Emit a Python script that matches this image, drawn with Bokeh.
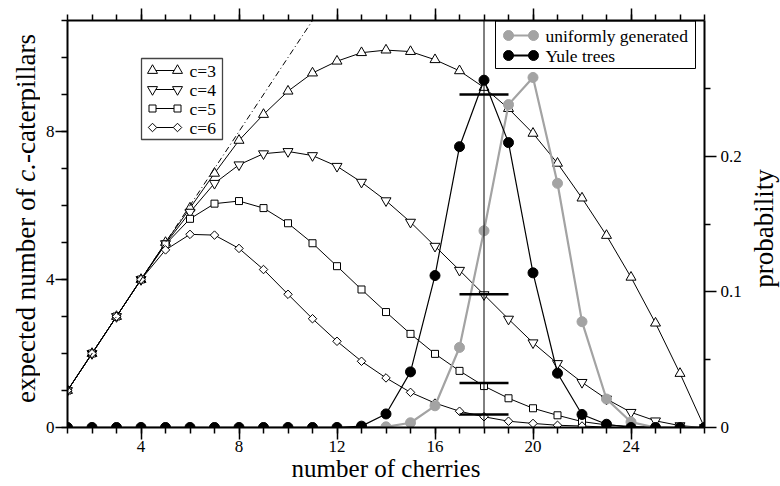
import numpy as np
from bokeh.plotting import figure
from bokeh.layouts import row
from bokeh.models import Range1d, LinearAxis, FixedTicker, Label, Span
from bokeh.embed import file_html
from bokeh.resources import INLINE

# ---------------- data ----------------
cherries = list(range(1, 28))
c3 = [1, 2, 3, 4, 5.0, 5.93, 6.87, 7.76, 8.46, 9.09, 9.58, 9.9, 10.13, 10.2, 10.16,
      9.94, 9.64, 9.19, 8.62, 7.95, 7.14, 6.2, 5.19, 4.06, 2.82, 1.46, 0.0]
c4 = [1, 2, 3, 4, 4.97, 5.82, 6.6, 7.1, 7.4, 7.46, 7.35, 7.06, 6.63, 6.13, 5.55,
      4.9, 4.25, 3.59, 2.93, 2.29, 1.73, 1.22, 0.77, 0.41, 0.18, 0.05, 0.0]
c5 = [1, 2, 3, 4, 4.95, 5.64, 6.05, 6.12, 5.93, 5.52, 4.98, 4.36, 3.73, 3.12, 2.53,
      1.99, 1.53, 1.12, 0.79, 0.52, 0.33, 0.16, 0.07, 0.03, 0.01, 0.0, 0.0]
c6 = [1, 2, 3, 4, 4.8, 5.22, 5.2, 4.84, 4.27, 3.6, 2.94, 2.33, 1.79, 1.34, 0.95,
      0.66, 0.44, 0.29, 0.17, 0.11, 0.06, 0.04, 0.01, 0.0, 0.0, 0.0, 0.0]
uniform = [0, 0, 0, 0, 0, 0, 0, 0, 0, 0, 0, 0, 0, 0.0005, 0.0035,
           0.016, 0.059, 0.145, 0.238, 0.258, 0.18, 0.078, 0.021, 0.004, 0, 0, 0]
yule = [0, 0, 0, 0, 0, 0, 0, 0, 0, 0, 0, 0, 0.001, 0.01, 0.041,
        0.112, 0.207, 0.256, 0.21, 0.114, 0.04, 0.0096, 0.0024, 0, 0, 0, 0]
diag_x = [1, 11]
diag_y = [1, 11]
peak_x = 18
bar_x0 = [17, 17, 17, 17]
bar_x1 = [19, 19, 19, 19]
bar_y = [9.0, 3.6, 1.2, 0.35]
x_major = [4, 8, 12, 16, 20, 24]
x_minor = list(range(1, 28))
y_major = [0, 4, 8]
y_minor = list(range(0, 12))
p_major = [0, 0.1, 0.2]
p_minor = [0.05, 0.15, 0.25]
legend_c = ["c=3", "c=4", "c=5", "c=6"]
legend_p = ["uniformly generated", "Yule trees"]
x_title = "number of cherries"
y_title_parts = [("expected number of ", "normal"), ("c.", "italic"), ("-caterpillars", "normal")]
p_title = "probability"

# ---------------- layout ----------------
FONT = "Liberation Serif"
GRAY = "#a3a3a3"
W, H = 780, 486
SL, SR = 40, 35               # side strips holding the rotated y titles
MW = W - SL - SR              # main figure width
FL, FT, FR, FB = 67, 20, 704, 427   # frame edges in page pixels
FW, FH = FR - FL, FB - FT
X0, X1, Y0, Y1, P0, P1 = 1, 27, 0, 11, 0, 0.3


def dx(px):
    return X0 + (px - FL) / FW * (X1 - X0)


def dy(py):
    return Y0 + (FB - py) / FH * (Y1 - Y0)


p = figure(width=MW, height=H, x_range=Range1d(X0, X1), y_range=Range1d(Y0, Y1),
           output_backend="svg", toolbar_location=None,
           min_border_left=FL - SL, min_border_right=(SL + MW) - FR,
           min_border_top=FT, min_border_bottom=H - FB,
           x_axis_location=None, y_axis_location=None)
p.extra_y_ranges = {"prob": Range1d(P0, P1)}
p.xgrid.visible = False
p.ygrid.visible = False
p.outline_line_color = None
p.background_fill_color = "white"
p.border_fill_color = "white"


def style(ax, labels=True, standoff=2):
    ax.axis_line_width = 2
    ax.axis_line_color = "black"
    ax.major_tick_out = 12
    ax.major_tick_in = 0
    ax.minor_tick_out = 6
    ax.minor_tick_in = 0
    ax.major_tick_line_width = 1.5
    ax.minor_tick_line_width = 1.5
    ax.major_label_text_font = FONT
    ax.major_label_standoff = standoff
    ax.axis_label_text_font = FONT
    ax.axis_label_text_font_style = "normal"
    ax.axis_label_text_color = "black"
    if labels:
        ax.major_label_text_font_size = "17px"
        ax.major_label_text_color = "black"
    else:
        ax.major_label_text_font_size = "0px"
        ax.major_label_text_color = None
        ax.major_label_standoff = 0


xb = LinearAxis(ticker=FixedTicker(ticks=x_major, minor_ticks=x_minor))
style(xb, True, 1)
xb.axis_label = x_title
xb.axis_label_text_font_size = "25px"
xb.axis_label_standoff = 0

xt = LinearAxis(ticker=FixedTicker(ticks=x_major, minor_ticks=x_minor))
style(xt, False)

yl = LinearAxis(ticker=FixedTicker(ticks=y_major, minor_ticks=y_minor))
style(yl, True, 1)

yr = LinearAxis(y_range_name="prob", ticker=FixedTicker(ticks=p_major, minor_ticks=p_minor))
style(yr, True, 4)

p.add_layout(xb, "below")
p.add_layout(xt, "above")
p.add_layout(yl, "left")
p.add_layout(yr, "right")

# ---------------- curves ----------------
mk = dict(fill_color="white", line_color="black", line_width=1)
series = [(c3, "triangle", 10, 0), (c4, "inverted_triangle", 10, 0),
          (c5, "square", 7, 0), (c6, "square", 6, np.pi / 4)]
for vals, m, s, a in series:
    p.line(cherries, vals, line_color="black", line_width=1)
for vals, m, s, a in series:
    p.scatter(cherries, vals, marker=m, size=s, angle=a, **mk)

p.line(diag_x, diag_y, line_color="black", line_width=1, line_dash="6 3 1 3")

p.line(cherries, uniform, y_range_name="prob", line_color=GRAY, line_width=2.2)
p.scatter(cherries, uniform, y_range_name="prob", marker="circle", size=10,
          fill_color=GRAY, line_color=GRAY)
p.line(cherries, yule, y_range_name="prob", line_color="black", line_width=1.2)
p.scatter(cherries, yule, y_range_name="prob", marker="circle", size=10,
          fill_color="black", line_color="black")

p.add_layout(Span(location=peak_x, dimension="height", line_color="black", line_width=1))
p.segment(bar_x0, bar_y, bar_x1, bar_y, line_color="black", line_width=2.5)

# ---------------- legends ----------------
p.quad(left=[dx(141)], right=[dx(222)], top=[dy(58)], bottom=[dy(139)],
       fill_color="white", line_color="#444444", line_width=1.3)
rows1 = [70, 89, 108, 127]
for (vals, m, s, a), txt, ry in zip(series, legend_c, rows1):
    p.line([dx(152), dx(177)], [dy(ry), dy(ry)], line_color="black", line_width=1)
    p.scatter([dx(152), dx(177)], [dy(ry), dy(ry)], marker=m, size=s, angle=a, **mk)
    p.add_layout(Label(x=dx(189), y=dy(ry), text=txt, text_font=FONT,
                       text_font_size="17.5px", text_baseline="middle", text_color="black"))

p.quad(left=[dx(495)], right=[dx(695)], top=[dy(20.5)], bottom=[dy(68)],
       fill_color="white", line_color="black", line_width=1)
rows2 = [35, 55]
for col, lw, txt, ry in zip([GRAY, "black"], [2.2, 2], legend_p, rows2):
    p.line([dx(508), dx(533)], [dy(ry), dy(ry)], line_color=col, line_width=lw)
    p.scatter([dx(508), dx(533)], [dy(ry), dy(ry)], marker="circle", size=10,
              fill_color=col, line_color=col)
    p.add_layout(Label(x=dx(545), y=dy(ry), text=txt, text_font=FONT,
                       text_font_size="17.5px", text_baseline="middle", text_color="black"))


# ---------------- side strips with the y titles ----------------
def strip(width):
    s = figure(width=width, height=H, x_range=Range1d(0, 1), y_range=Range1d(0, 1),
               output_backend="svg", toolbar_location=None, min_border=0,
               min_border_left=0, min_border_right=0,
               min_border_top=FT, min_border_bottom=H - FB,
               x_axis_location=None, y_axis_location=None)
    s.grid.visible = False
    s.outline_line_color = None
    s.background_fill_color = "white"
    s.border_fill_color = "white"
    return s


# Times-compatible advance widths (per 1000 em) to chain the mixed-style title
TW = {"a": 444, "b": 500, "c": 444, "d": 500, "e": 444, "f": 333, "i": 278, "l": 278,
      "m": 778, "n": 500, "o": 500, "p": 500, "r": 333, "s": 389, "t": 278, "u": 500,
      "x": 500, " ": 250, ".": 250, "-": 333}
YFS = 27
DESC = 0.216 * YFS           # the rotated anchor sits on the descent line
left = strip(SL)
widths = [sum(TW[ch] for ch in t) * YFS / 1000 for t, _ in y_title_parts]
start = (FB - 218) - sum(widths) / 2          # y measured up from the frame bottom
for (t, st), w in zip(y_title_parts, widths):
    left.add_layout(Label(x=31 - DESC, y=start, x_units="screen", y_units="screen",
                          text=t, text_font=FONT, text_font_style=st,
                          text_font_size=f"{YFS}px", angle=np.pi / 2,
                          text_align="left", text_baseline="alphabetic", text_color="black"))
    start += w

right = strip(SR)
right.add_layout(Label(x=769 - (SL + MW) - DESC, y=FB - 228, x_units="screen", y_units="screen",
                       text=p_title, text_font=FONT, text_font_size=f"{YFS}px",
                       angle=np.pi / 2, text_align="center", text_baseline="alphabetic",
                       text_color="black"))

layout = row(left, p, right, spacing=0)
open("out.html", "w").write(file_html(layout, INLINE))
